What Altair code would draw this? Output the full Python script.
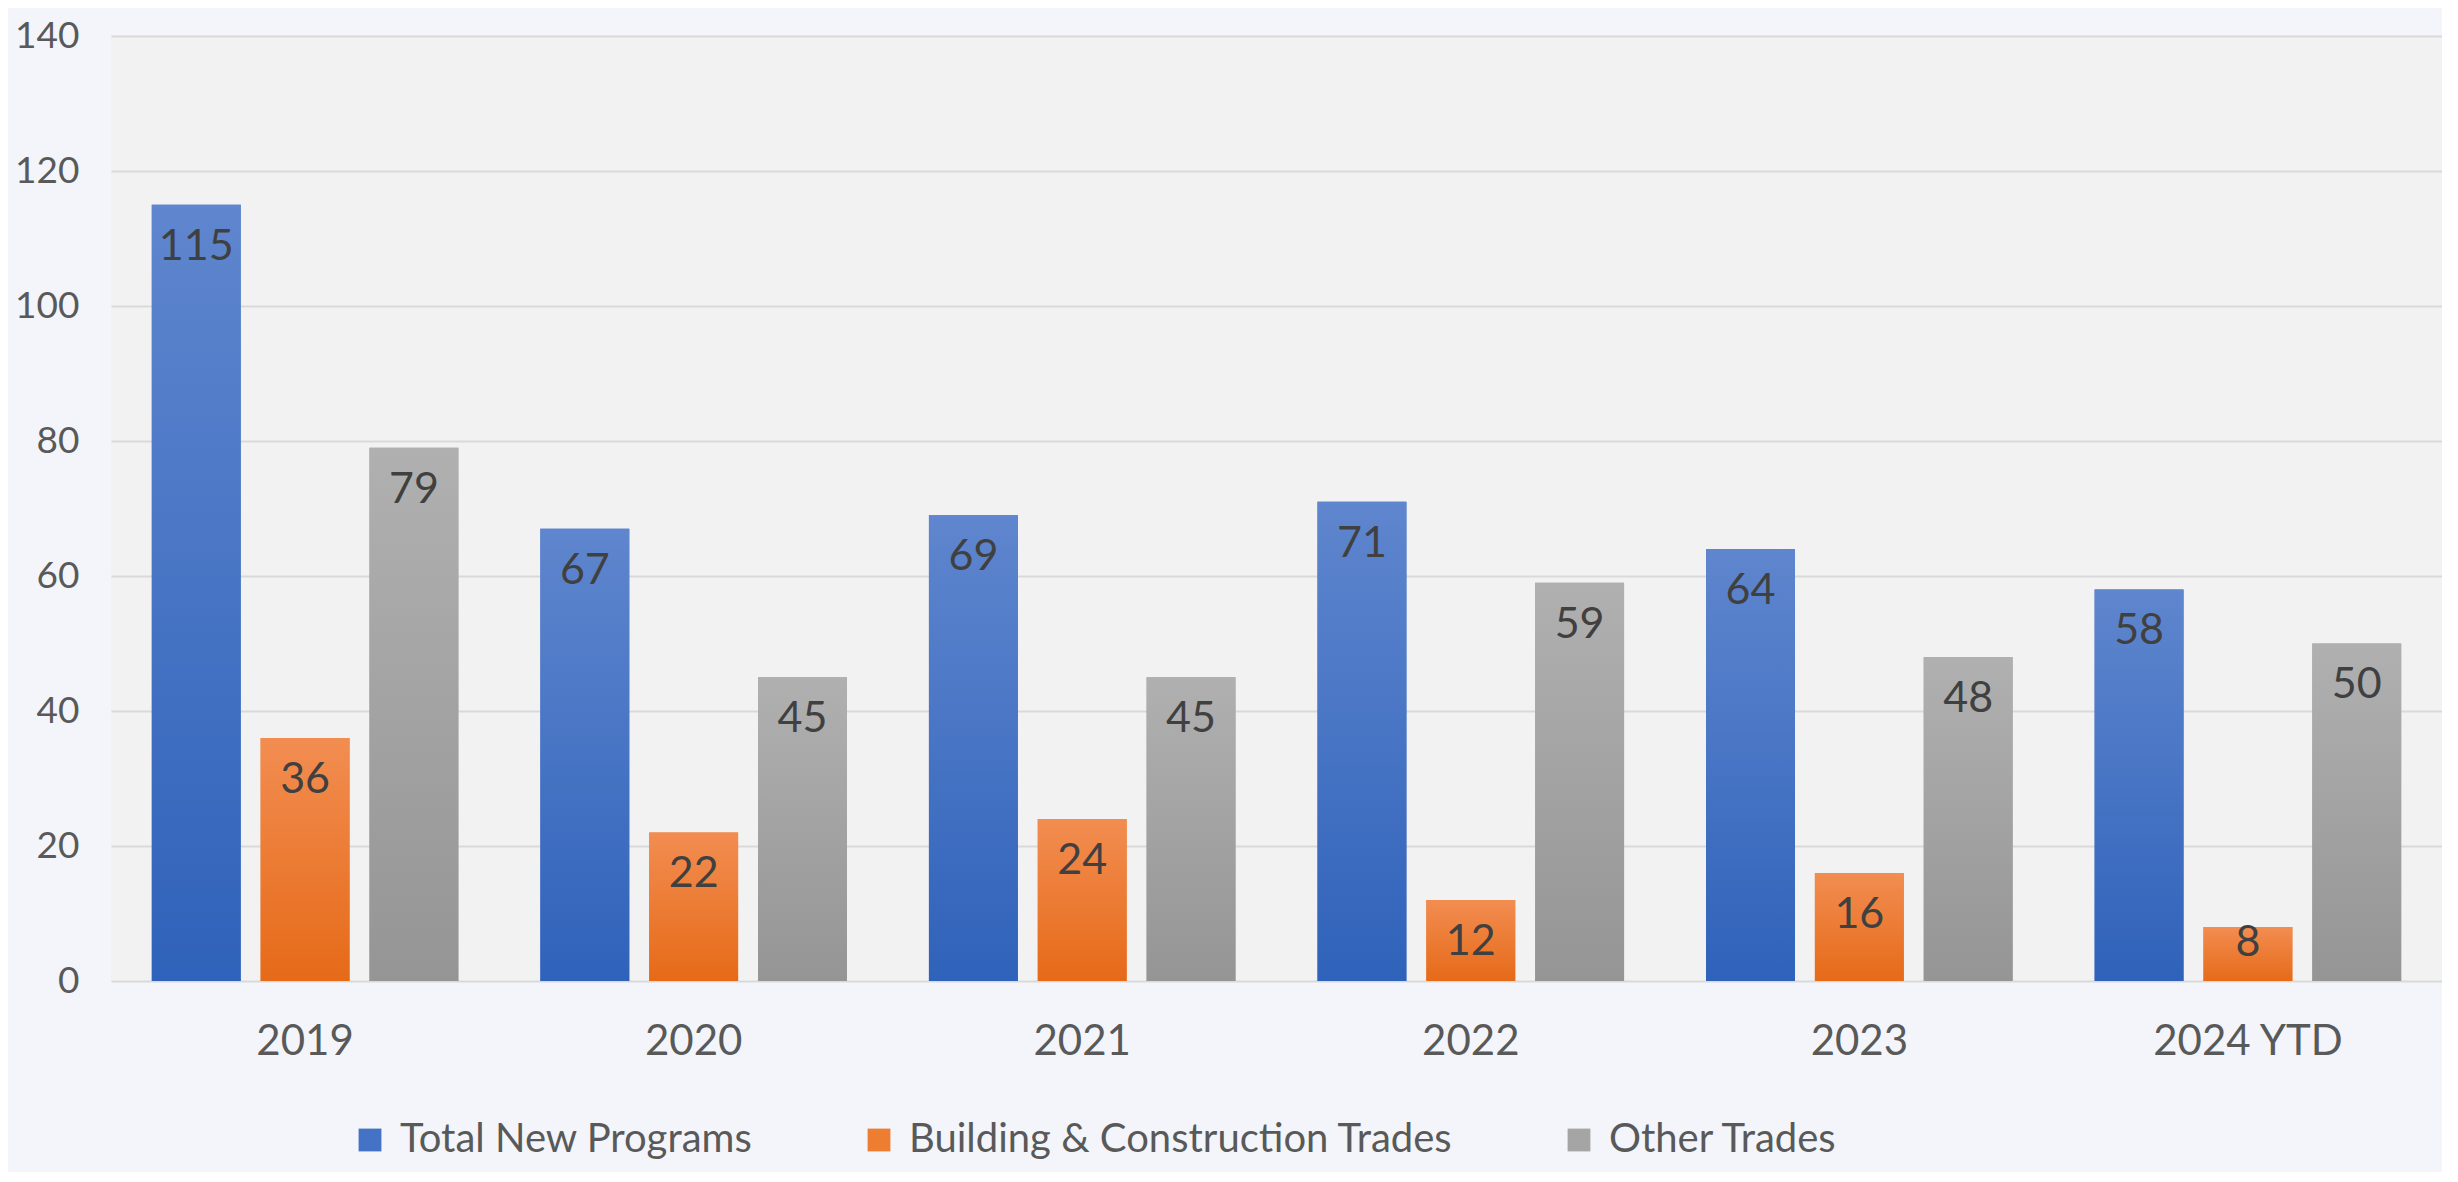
import altair as alt
import pandas as pd

years = ["2019", "2020", "2021", "2022", "2023", "2024 YTD"]
series = ["Total New Programs", "Building & Construction Trades", "Other Trades"]
total_new = [115, 67, 69, 71, 64, 58]
building = [36, 22, 24, 12, 16, 8]
other = [79, 45, 45, 59, 48, 50]
y_ticks = [0, 20, 40, 60, 80, 100, 120, 140]

legend_colors = ["#4472C4", "#ED7D31", "#A5A5A5"]
top_colors = ["#5F86CE", "#F28D51", "#B0B0B0"]
bottom_colors = ["#2F62BA", "#E66A18", "#959595"]

rows = []
for s, vals in zip(series, [total_new, building, other]):
    for yr, v in zip(years, vals):
        rows.append({"year": yr, "series": s, "value": v})
df = pd.DataFrame(rows)

FONT = "Lato"

x_enc = alt.X(
    "year:N",
    sort=years,
    scale=alt.Scale(paddingInner=0.211, paddingOuter=0.105),
    axis=alt.Axis(
        title=None, labelAngle=0, labelFontSize=42, labelColor="#595959",
        labelPadding=40, ticks=False, domain=False, labelFont=FONT,
        labelLimit=0,
    ),
)
xo_enc = alt.XOffset(
    "series:N", sort=series,
    scale=alt.Scale(domain=series, paddingInner=0.183, paddingOuter=0),
)
y_enc = alt.Y(
    "value:Q",
    scale=alt.Scale(domain=[0, 140], nice=False),
    axis=alt.Axis(
        title=None, values=y_ticks, labelFontSize=37, labelColor="#595959",
        labelPadding=32, ticks=False, domain=False, grid=True,
        gridColor="#D9D9D9", gridWidth=2, labelFont=FONT,
    ),
)

base = alt.Chart(df)

bars = base.mark_bar().encode(
    x=x_enc,
    xOffset=xo_enc,
    y=y_enc,
    color=alt.Color(
        "series:N",
        scale=alt.Scale(domain=series, range=legend_colors),
        legend=alt.Legend(
            title=None, orient="none", legendX=239, legendY=1084,
            direction="horizontal", symbolType="square", symbolSize=520,
            symbolStrokeWidth=0, labelFontSize=40, labelColor="#595959",
            labelFont=FONT, labelLimit=0, columnPadding=106, labelOffset=10,
        ),
    ),
)

layers = [bars]
for s, tc, bc in zip(series, top_colors, bottom_colors):
    grad = alt.Gradient(
        gradient="linear",
        stops=[alt.GradientStop(color=tc, offset=0), alt.GradientStop(color=bc, offset=1)],
        x1=0, x2=0, y1=0, y2=1,
    )
    layers.append(
        base.transform_filter(alt.datum.series == s)
        .mark_bar(color=grad)
        .encode(x=x_enc, xOffset=xo_enc, y=y_enc)
    )

labels = base.transform_calculate(
    label_y="max(datum.value - 6.2, 5.7)"
).mark_text(
    fontSize=43, color="#404040", font=FONT, baseline="middle", align="center"
).encode(
    x=x_enc,
    xOffset=xo_enc,
    y=alt.Y("label_y:Q"),
    text=alt.Text("value:Q"),
)
layers.append(labels)

chart = alt.layer(*layers).properties(
    width=2331,
    height=945,
    background="#F3F5FA",
    padding={"left": 103, "top": 28, "right": 0, "bottom": 191},
    autosize=alt.AutoSizeParams(type="none"),
).configure_view(fill="#F2F2F2", strokeWidth=0)

chart.save("out.html", embed_options={"renderer": "svg", "actions": False})
